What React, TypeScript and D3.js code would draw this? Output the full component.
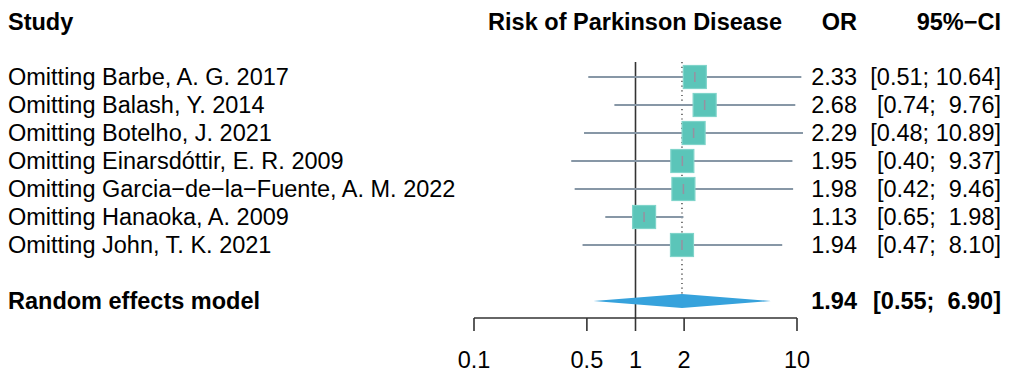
import React from 'react';
import * as d3 from 'd3';

const studies = [
  'Omitting Barbe, A. G. 2017',
  'Omitting Balash, Y. 2014',
  'Omitting Botelho, J. 2021',
  'Omitting Einarsdóttir, E. R. 2009',
  'Omitting Garcia\u2212de\u2212la\u2212Fuente, A. M. 2022',
  'Omitting Hanaoka, A. 2009',
  'Omitting John, T. K. 2021',
];
const or = [2.33, 2.68, 2.29, 1.95, 1.98, 1.13, 1.94];
const lower = [0.51, 0.74, 0.48, 0.4, 0.42, 0.65, 0.47];
const upper = [10.64, 9.76, 10.89, 9.37, 9.46, 1.98, 8.1];
const pooled = { or: 1.94, lower: 0.55, upper: 6.9 };
const ticks = [0.1, 0.5, 1, 2, 10];

const fmt = d3.format('.2f');
const ciText = (lo: number, hi: number) => {
  const h = fmt(hi);
  return '[' + fmt(lo) + ';' + (h.length < 5 ? '  ' : ' ') + h + ']';
};

export default function App() {
  const x = d3.scaleLog().domain([0.1, 10]).range([474, 797]);
  const rowY = (i: number) => 77 + i * 28;
  const sumY = 301;
  const axisY = 318;
  const font = 'Liberation Sans, Arial, Helvetica, sans-serif';
  const fs = 23.5;
  const sq = 23;

  const diamond = [
    [x(pooled.lower), sumY],
    [x(pooled.or), sumY - 7],
    [x(pooled.upper), sumY],
    [x(pooled.or), sumY + 7],
  ].map(p => p.join(',')).join(' ');

  return (
    <svg width={1010} height={375} style={{ position: 'absolute', left: 0, top: 0 }} fontFamily={font} fontSize={fs}>
      <rect width={1010} height={375} fill="#fff" />
      {/* headers */}
      <text x={8} y={30} fontWeight="bold">Study</text>
      <text x={782} y={30} fontWeight="bold" textAnchor="end">Risk of Parkinson Disease</text>
      <text x={857} y={30} fontWeight="bold" textAnchor="end">OR</text>
      <text x={1001} y={30} fontWeight="bold" textAnchor="end">95%−CI</text>

      {/* reference lines */}
      <line x1={x(1)} x2={x(1)} y1={62} y2={axisY} stroke="#333" strokeWidth={1.6} />
      <line x1={x(pooled.or)} x2={x(pooled.or)} y1={62} y2={sumY - 6} stroke="#222" strokeWidth={1.2} strokeDasharray="1.2,3.5" />

      {studies.map((s, i) => {
        const y = rowY(i);
        return (
          <g key={s}>
            <text x={8} y={y + 8}>{s}</text>
            <line x1={x(lower[i])} x2={x(upper[i])} y1={y} y2={y} stroke="#8797a6" strokeWidth={1.8} />
            <rect x={x(or[i]) - sq / 2} y={y - sq / 2} width={sq} height={sq} fill="#5bc5b9" stroke="#7fd4ca" strokeWidth={1.2} />
            <line x1={x(or[i])} x2={x(or[i])} y1={y - 5} y2={y + 5} stroke="#9890a0" strokeWidth={1.5} />
            <text x={857} y={y + 8} textAnchor="end">{fmt(or[i])}</text>
            <text x={1001} y={y + 8} textAnchor="end" style={{ whiteSpace: 'pre' }}>{ciText(lower[i], upper[i])}</text>
          </g>
        );
      })}

      {/* summary */}
      <text x={8} y={sumY + 8} fontWeight="bold">Random effects model</text>
      <polygon points={diamond} fill="#36a2dc" />
      <text x={857} y={sumY + 8} fontWeight="bold" textAnchor="end">{fmt(pooled.or)}</text>
      <text x={1001} y={sumY + 8} fontWeight="bold" textAnchor="end" style={{ whiteSpace: 'pre' }}>{ciText(pooled.lower, pooled.upper)}</text>

      {/* axis */}
      <line x1={x(0.1)} x2={x(10)} y1={axisY} y2={axisY} stroke="#333" strokeWidth={1.6} />
      {ticks.map(t => (
        <g key={t}>
          <line x1={x(t)} x2={x(t)} y1={axisY} y2={axisY + 13} stroke="#333" strokeWidth={1.6} />
          <text x={x(t)} y={368} textAnchor="middle">{String(t)}</text>
        </g>
      ))}
    </svg>
  );
}
